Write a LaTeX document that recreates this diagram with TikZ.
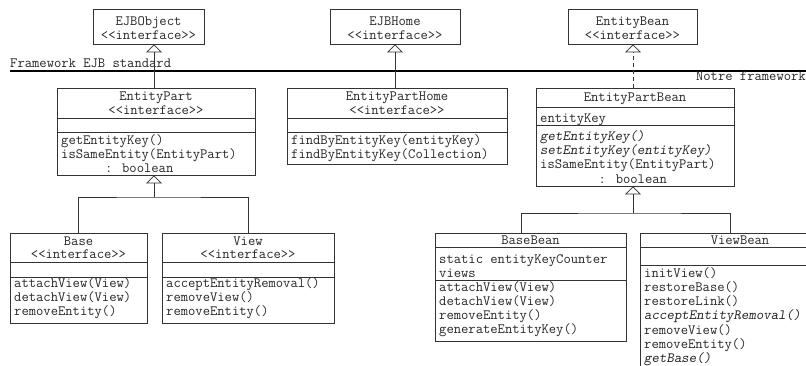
\documentclass[tikz,border=0pt]{standalone}
\usetikzlibrary{arrows.meta, fit}

\tikzset{
  cls/.style={draw=black!80, line width=0.7pt, inner sep=0pt},
  sep/.style={draw=black!80, line width=0.7pt},
  hd/.style={inner sep=0pt, anchor=base},
  txt/.style={inner sep=0pt, anchor=base west},
  gen/.style={-{Triangle[open, width=16pt, length=8pt]}, draw=black!80, line width=0.7pt},
}

\begin{document}
\begin{tikzpicture}[x=1pt, y=-1pt, text=black!85, font=\ttfamily\fontsize{14.2}{14.3}\selectfont]
  \useasboundingbox (0,0) rectangle (806,365);
  \clip (0,0) rectangle (806,365);

  % frontier between the two frameworks
  \draw[line width=1.4pt] (10,71) -- (806,71);
  \node[txt] (fw-ejb) at (10,67.5) {Framework EJB standard};
  \node[hd, anchor=base east] (fw-ours) at (806,80) {Notre framework};

  % EJB interfaces
  \node[cls, fit={(93,9) (204,44)}] (ejbobj) {};
  \node[hd] (ejbobj-n) at (148.5,25) {EJBObject};
  \node[hd] (ejbobj-s) at (148.5,39) {<<interface>>};
  \node[cls, fit={(330,9) (460,44)}] (ejbhome) {};
  \node[hd] (ejbhome-n) at (395,25) {EJBHome};
  \node[hd] (ejbhome-s) at (395,39) {<<interface>>};
  \node[cls, fit={(568,9) (697,44)}] (ebean) {};
  \node[hd] (ebean-n) at (632.5,25) {EntityBean};
  \node[hd] (ebean-s) at (632.5,39) {<<interface>>};

  % EntityPart
  \node[cls, fit={(57,88) (255,175)}] (epart) {};
  \draw[sep] (57,118) -- (255,118) (57,132) -- (255,132);
  \node[hd] (epart-n) at (156,100.5) {EntityPart};
  \node[hd] (epart-s) at (156,114) {<<interface>>};
  \foreach \t [count=\i] in {getEntityKey(), isSameEntity(EntityPart), {\hphantom{xxxxxx}: boolean}}
    \node[txt] (epart-m\i) at (61,{130+14.2*\i}) {\t};

  % EntityPartHome
  \node[cls, fit={(287,88) (507,164)}] (ephome) {};
  \draw[sep] (287,118) -- (507,118) (287,132) -- (507,132);
  \node[hd] (ephome-n) at (397,100.5) {EntityPartHome};
  \node[hd] (ephome-s) at (397,114) {<<interface>>};
  \foreach \t [count=\i] in {findByEntityKey(entityKey), findByEntityKey(Collection)}
    \node[txt] (ephome-m\i) at (291,{130+14.2*\i}) {\t};

  % EntityPartBean
  \node[cls, fit={(536,88) (734,186)}] (epbean) {};
  \draw[sep] (536,107) -- (734,107) (536,125) -- (734,125);
  \node[hd] (epbean-n) at (635,101) {EntityPartBean};
  \node[txt] (epbean-a1) at (540,122) {entityKey};
  \foreach \t [count=\i] in {{\slshape getEntityKey()}, {\slshape setEntityKey(entityKey)},
      isSameEntity(EntityPart), {\hphantom{xxxxxxxx}: boolean}}
    \node[txt] (epbean-m\i) at (540,{126+14.3*\i}) {\t};

  % Base
  \node[cls, fit={(10,233) (147,323)}] (base) {};
  \draw[sep] (10,262) -- (147,262) (10,277) -- (147,277);
  \node[hd] (base-n) at (78.5,245) {Base};
  \node[hd] (base-s) at (78.5,258) {<<interface>>};
  \foreach \t [count=\i] in {attachView(View), detachView(View), removeEntity()}
    \node[txt] (base-m\i) at (14,{273+14.2*\i}) {\t};

  % View
  \node[cls, fit={(162,233) (334,323)}] (view) {};
  \draw[sep] (162,262) -- (334,262) (162,277) -- (334,277);
  \node[hd] (view-n) at (248,245) {View};
  \node[hd] (view-s) at (248,258) {<<interface>>};
  \foreach \t [count=\i] in {acceptEntityRemoval(), removeView(), removeEntity()}
    \node[txt] (view-m\i) at (166,{273+14.2*\i}) {\t};

  % BaseBean
  \node[cls, fit={(435,233) (626,341)}] (bbean) {};
  \draw[sep] (435,247) -- (626,247) (435,280) -- (626,280);
  \node[hd] (bbean-n) at (530.5,244) {BaseBean};
  \node[txt] (bbean-a1) at (439,263) {static entityKeyCounter};
  \node[txt] (bbean-a2) at (439,277) {views};
  \foreach \t [count=\i] in {attachView(View), detachView(View), removeEntity(), generateEntityKey()}
    \node[txt] (bbean-m\i) at (439,{277+14.2*\i}) {\t};

  % ViewBean
  \node[cls, fit={(640,233) (840,400)}] (vbean) {};
  \draw[sep] (640,247) -- (840,247) (640,265) -- (840,265);
  \node[hd] (vbean-n) at (740,244) {ViewBean};
  \foreach \t [count=\i] in {initView(), restoreBase(), restoreLink(), {\slshape acceptEntityRemoval()},
      removeView(), removeEntity(), {\slshape getBase()}}
    \node[txt] (vbean-m\i) at (644,{263+14.2*\i}) {\t};

  % realisations of the EJB interfaces
  \draw[gen] (epart.north -| 154,0) -- (154,0 |- ejbobj.south);
  \draw[gen] (ephome.north -| 395,0) -- (395,0 |- ejbhome.south);
  \draw[gen, dashed, dash pattern=on 4pt off 3pt] (epbean.north -| 633,0) -- (633,0 |- ebean.south);

  % inheritance trees
  \coordinate (ep-fork) at (154,197);
  \draw[sep] (base.north) |- (ep-fork) -| (view.north);
  \draw[gen] (ep-fork) -- (ep-fork |- epart.south);
  \coordinate (epb-fork) at (633,213);
  \coordinate (bb-top) at (521,233);
  \coordinate (vb-top) at (730,233);
  \draw[sep] (bb-top) |- (epb-fork) -| (vb-top);
  \draw[gen] (epb-fork) -- (epb-fork |- epbean.south);
\end{tikzpicture}
\end{document}
